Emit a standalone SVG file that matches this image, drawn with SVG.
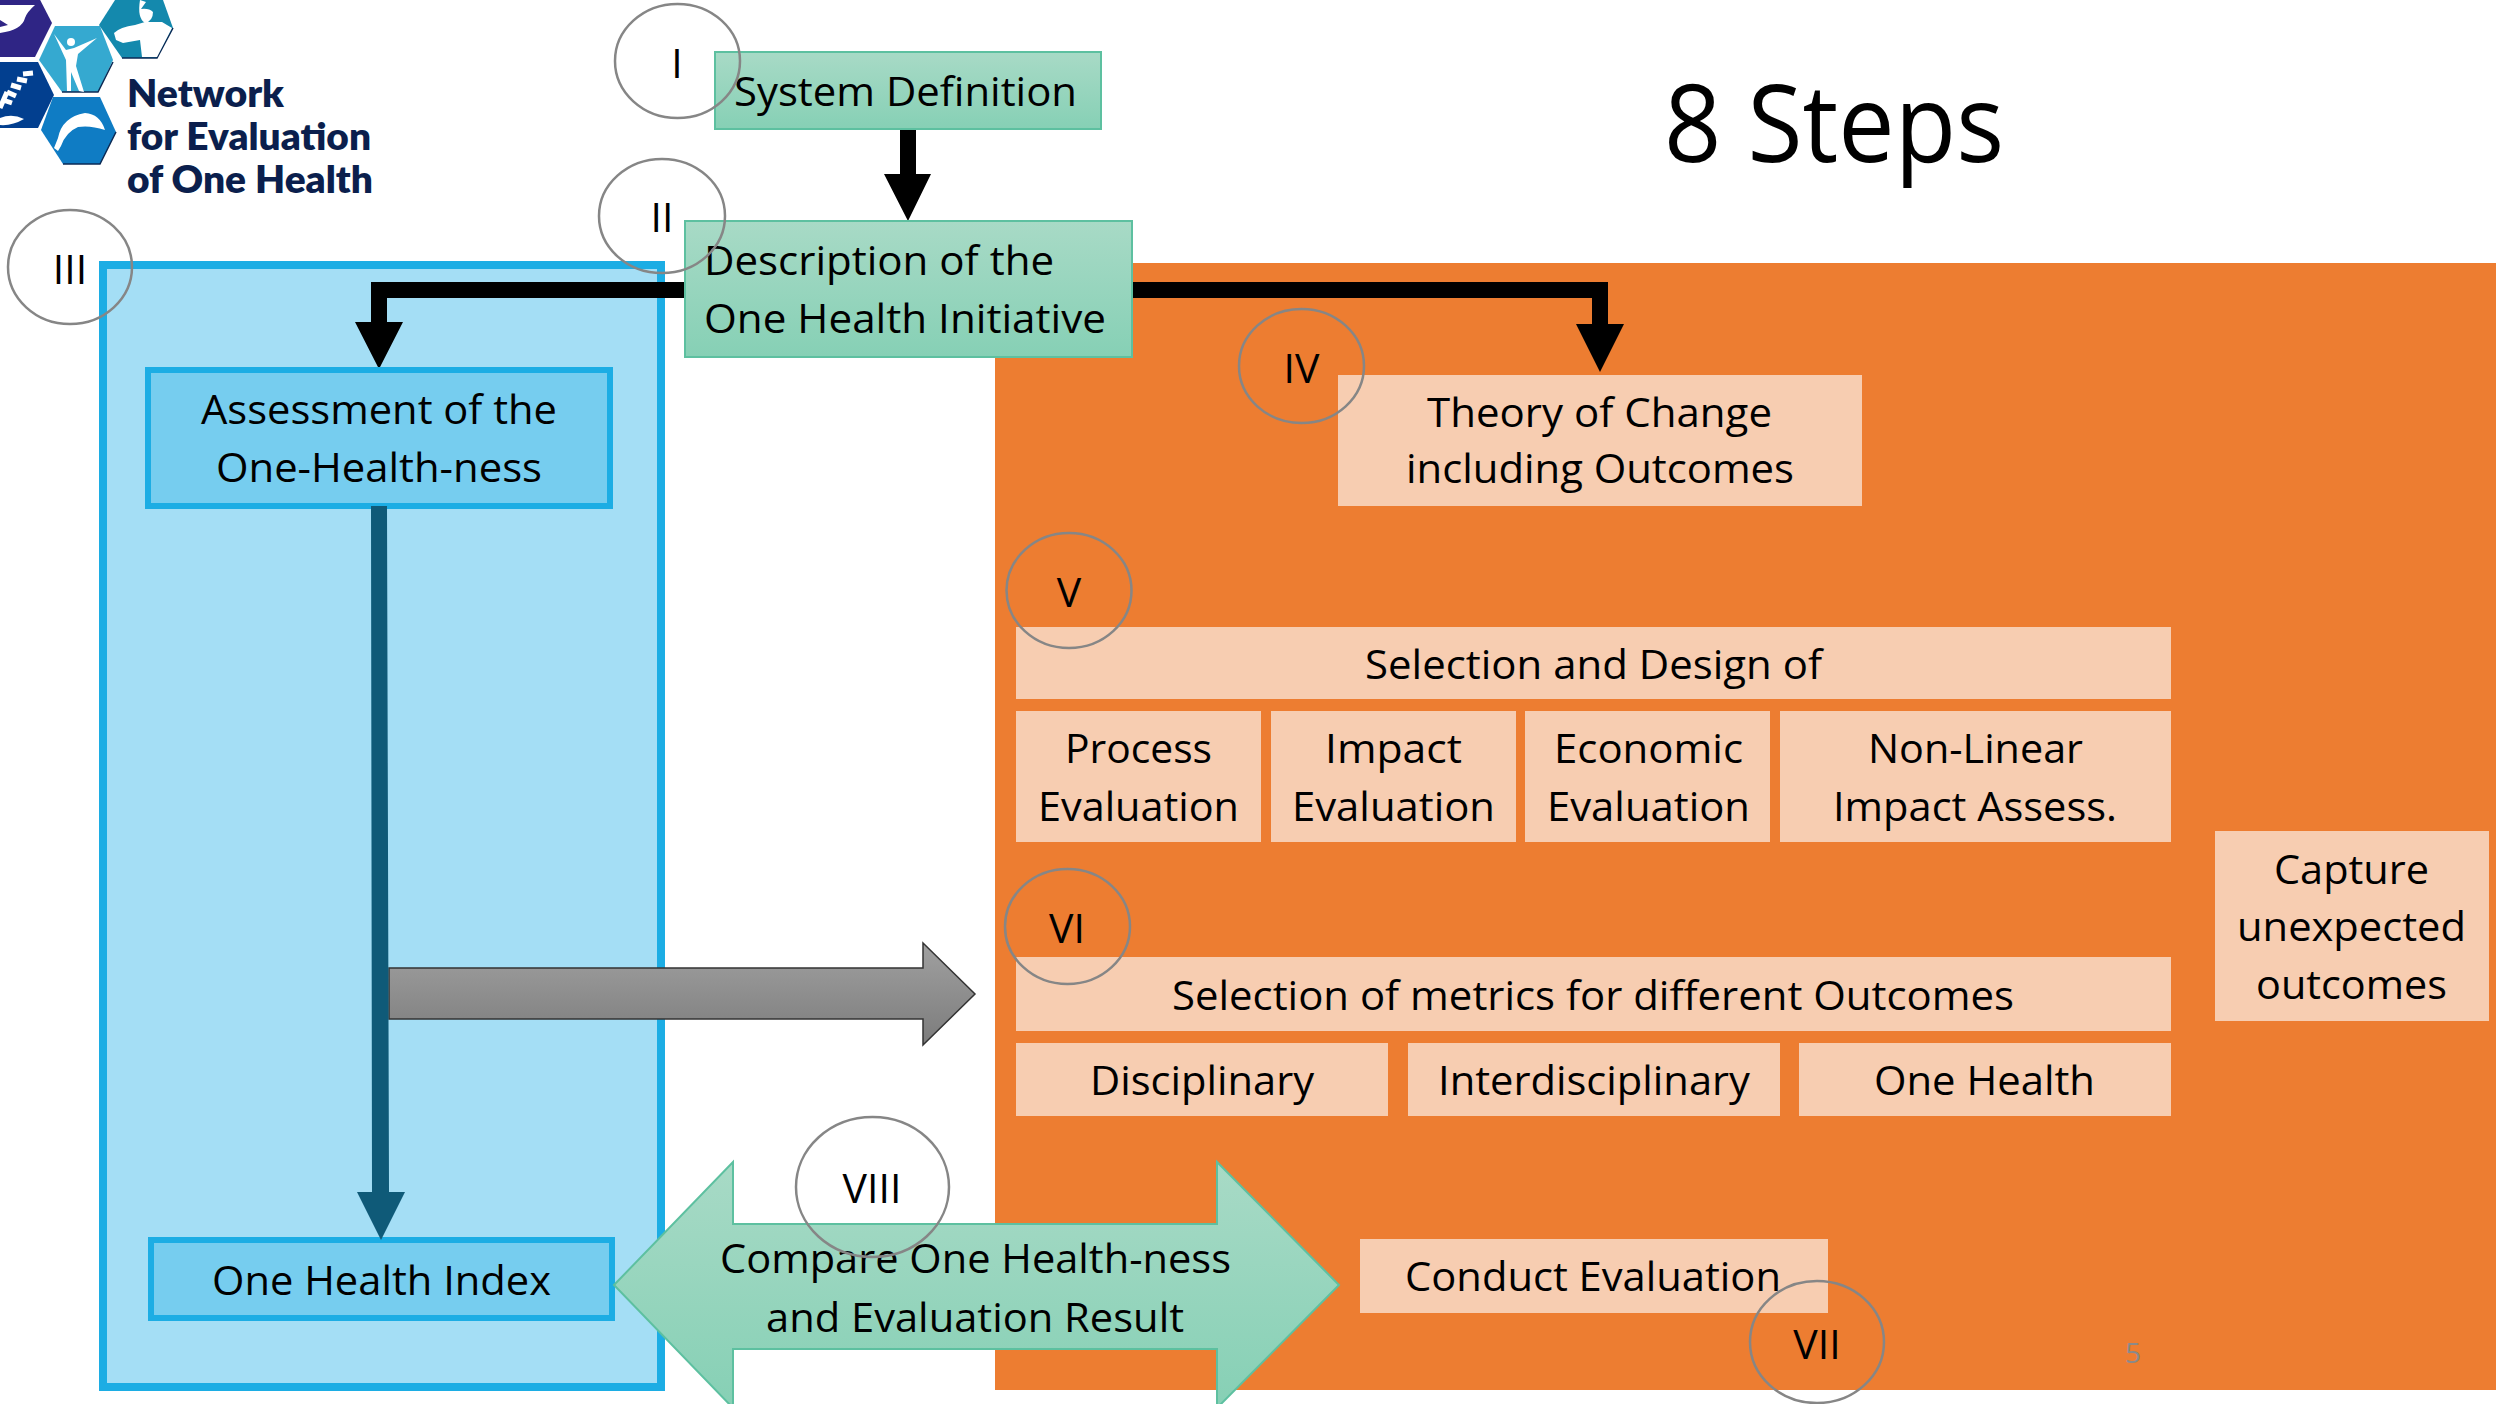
<svg xmlns="http://www.w3.org/2000/svg" width="2496" height="1404" viewBox="0 0 2496 1404">
<style>
text{font-family:"Open Sans","Noto Sans",sans-serif;font-size:41px;fill:#000}
.c{fill:none;stroke:#868686;stroke-width:2.5}
.p{fill:#f7cdb1}
.g{fill:url(#gg);stroke:#5dc0a0;stroke-width:2}
.b{fill:#76cdef;stroke:#1cade4;stroke-width:6}
text.l{font-family:"Lato",sans-serif;font-weight:800;font-size:38px;fill:#0b1f4d}
.w{fill:#fff}
.s{fill:none;stroke:#0b2a55;stroke-width:1.5}
.st{fill:none;stroke:#fff;stroke-width:5}
</style>
<defs>
<linearGradient id="gg" x1="0" y1="0" x2="0" y2="1"><stop offset="0" stop-color="#a8dac6"/><stop offset="1" stop-color="#86d0b5"/></linearGradient>
<linearGradient id="gr" x1="0" y1="0" x2="0" y2="1"><stop offset="0" stop-color="#a0a0a0"/><stop offset="1" stop-color="#7c7c7c"/></linearGradient>
</defs>
<rect width="2496" height="1404" fill="#fff"/>
<rect id="orange-panel" x="995" y="263" width="1501" height="1127" fill="#ed7d31"/>
<rect id="blue-panel" x="103" y="265" width="558" height="1122" fill="#a4def5" stroke="#1cade4" stroke-width="8"/>
<g id="logo">
<polygon points="0,57 35,57 52,23 35,-10 0,-10" fill="#2f2585"/>
<polygon points="39,60 55,26 100,26 113,60 98,92 62,92" fill="#35a9d0"/>
<polygon points="99,25 115,0 163,0 173,28 157,58 122,58" fill="#1489ad"/>
<polygon points="0,62 38,62 54,95 38,128 0,128" fill="#023f8f"/>
<polygon points="41,130 53,97 100,97 116,132 100,164 63,164" fill="#0f7cc4"/>
<path class="s" d="M122,58 H157 L173,28 M62,92 H98 L113,62 M63,164 H100 L116,132"/>
<path class="w" d="M0,5 L35,5 Q27,12 25,18 Q22,30 0,33 L0,27 L8,25 L0,20Z"/>
<circle class="w" cx="71" cy="42" r="4"/>
<path class="w" d="M54,34 L66,50 L74,48 L97,38 L78,54 L76,66 L84,92 L79,91 L71,72 L71,91 L67,91 L66,60Z"/>
<path class="w" d="M114,33 Q120,27 135,25 L145,22 L162,22 L172,28 L157,57 L142,57 L140,40 L123,43 L116,40Z"/>
<path class="w" d="M140,0 L146,2 L141,9 Q149,8 153,12 Q153,21 145,23 Q137,18 140,0Z"/>
<path class="st" d="M0,108 L7,92 M3,100 L12,103 M7,92 L16,96 M11,85 L21,88 M17,79 L27,81 M23,74 L33,73"/>
<path class="w" d="M0,118 Q12,113 24,119 Q12,126 0,125Z"/>
<path class="w" d="M54,148 L58,138 Q62,117 85,113 Q100,114 105,130 Q90,125 78,127 Q66,132 61,146 L58,151Z"/>
<text class="l" x="127" y="107" textLength="157" lengthAdjust="spacingAndGlyphs">Network</text>
<text class="l" x="127" y="150" textLength="244" lengthAdjust="spacingAndGlyphs">for Evaluation</text>
<text class="l" x="127" y="193" textLength="246" lengthAdjust="spacingAndGlyphs">of One Health</text>
</g>
<text id="title" x="1664" y="162" style="font-size:108px" textLength="340" lengthAdjust="spacingAndGlyphs">8 Steps</text>
<g id="connectors">
<polygon points="900,129 916,129 916,174 931,174 908,221 884,174 900,174"/>
<polygon points="690,282 371,282 371,322 355,322 379,369 403,322 387,322 387,298 690,298"/>
<polygon points="1130,282 1608,282 1608,324 1624,324 1600,372 1576,324 1592,324 1592,298 1130,298"/>
<polygon points="389,968 923,968 923,943 975,994 923,1045 923,1019 389,1019" fill="url(#gr)" stroke="#333" stroke-width="1.5"/>
</g>
<g id="system-definition"><rect class="g" x="715" y="52" width="386" height="77"/><text x="734" y="106" textLength="343" lengthAdjust="spacingAndGlyphs">System Definition</text></g>
<g id="description"><rect class="g" x="685" y="221" width="447" height="136"/><text x="704" y="275" textLength="350" lengthAdjust="spacingAndGlyphs">Description of the</text><text x="704" y="333" textLength="402" lengthAdjust="spacingAndGlyphs">One Health Initiative</text></g>
<g id="assessment"><rect class="b" x="148" y="370" width="462" height="136"/><text x="201" y="424" textLength="356" lengthAdjust="spacingAndGlyphs">Assessment of the</text><text x="216" y="482" textLength="326" lengthAdjust="spacingAndGlyphs">One-Health-ness</text></g>
<g id="one-health-index"><rect class="b" x="151" y="1240" width="461" height="78"/><text x="212" y="1295" textLength="339" lengthAdjust="spacingAndGlyphs">One Health Index</text></g>
<polygon id="index-connector" points="371,506 387,506 389,1192 405,1192 381,1240 357,1192 372,1192" fill="#0f5a78"/>
<g id="compare"><polygon class="g" points="614,1285 733,1162 733,1224 1217,1224 1217,1162 1339,1285 1217,1408 1217,1349 733,1349 733,1408"/><text x="720" y="1273" textLength="511" lengthAdjust="spacingAndGlyphs">Compare One Health-ness</text><text x="766" y="1332" textLength="418" lengthAdjust="spacingAndGlyphs">and Evaluation Result</text></g>
<g id="theory"><rect class="p" x="1338" y="375" width="524" height="131"/><text x="1427" y="427" textLength="345" lengthAdjust="spacingAndGlyphs">Theory of Change</text><text x="1406" y="483" textLength="388" lengthAdjust="spacingAndGlyphs">including Outcomes</text></g>
<g id="selection-design"><rect class="p" x="1016" y="627" width="1155" height="72"/><text x="1365" y="679" textLength="457" lengthAdjust="spacingAndGlyphs">Selection and Design of</text></g>
<g id="process"><rect class="p" x="1016" y="711" width="245" height="131"/><text x="1065" y="763" textLength="147" lengthAdjust="spacingAndGlyphs">Process</text><text x="1038" y="821" textLength="201" lengthAdjust="spacingAndGlyphs">Evaluation</text></g>
<g id="impact"><rect class="p" x="1271" y="711" width="245" height="131"/><text x="1325" y="763" textLength="137" lengthAdjust="spacingAndGlyphs">Impact</text><text x="1292" y="821" textLength="203" lengthAdjust="spacingAndGlyphs">Evaluation</text></g>
<g id="economic"><rect class="p" x="1525" y="711" width="245" height="131"/><text x="1554" y="763" textLength="189" lengthAdjust="spacingAndGlyphs">Economic</text><text x="1547" y="821" textLength="203" lengthAdjust="spacingAndGlyphs">Evaluation</text></g>
<g id="non-linear"><rect class="p" x="1780" y="711" width="391" height="131"/><text x="1868" y="763" textLength="215" lengthAdjust="spacingAndGlyphs">Non-Linear</text><text x="1833" y="821" textLength="284" lengthAdjust="spacingAndGlyphs">Impact Assess.</text></g>
<g id="metrics"><rect class="p" x="1016" y="957" width="1155" height="74"/><text x="1172" y="1010" textLength="842" lengthAdjust="spacingAndGlyphs">Selection of metrics for different Outcomes</text></g>
<g id="disciplinary"><rect class="p" x="1016" y="1043" width="372" height="73"/><text x="1090" y="1095" textLength="224" lengthAdjust="spacingAndGlyphs">Disciplinary</text></g>
<g id="interdisciplinary"><rect class="p" x="1408" y="1043" width="372" height="73"/><text x="1438" y="1095" textLength="312" lengthAdjust="spacingAndGlyphs">Interdisciplinary</text></g>
<g id="one-health"><rect class="p" x="1799" y="1043" width="372" height="73"/><text x="1874" y="1095" textLength="221" lengthAdjust="spacingAndGlyphs">One Health</text></g>
<g id="capture"><rect class="p" x="2215" y="831" width="274" height="190"/><text x="2274" y="884" textLength="155" lengthAdjust="spacingAndGlyphs">Capture</text><text x="2237" y="941" textLength="229" lengthAdjust="spacingAndGlyphs">unexpected</text><text x="2256" y="999" textLength="191" lengthAdjust="spacingAndGlyphs">outcomes</text></g>
<g id="conduct"><rect class="p" x="1360" y="1239" width="468" height="74"/><text x="1405" y="1291" textLength="376" lengthAdjust="spacingAndGlyphs">Conduct Evaluation</text></g>
<g id="marker-I"><ellipse class="c" cx="677.5" cy="61" rx="62.5" ry="57"/><text x="677" y="78" text-anchor="middle">I</text></g>
<g id="marker-II"><ellipse class="c" cx="662" cy="216" rx="63" ry="57"/><text x="662" y="232" text-anchor="middle">II</text></g>
<g id="marker-III"><ellipse class="c" cx="70" cy="267" rx="62" ry="57"/><text x="70" y="284" text-anchor="middle">III</text></g>
<g id="marker-IV"><ellipse class="c" cx="1301.5" cy="366" rx="62.5" ry="57"/><text x="1301.5" y="383" text-anchor="middle">IV</text></g>
<g id="marker-V"><ellipse class="c" cx="1069" cy="590.5" rx="62.5" ry="57.5"/><text x="1069" y="607" text-anchor="middle">V</text></g>
<g id="marker-VI"><ellipse class="c" cx="1067.5" cy="926.5" rx="62.5" ry="57.5"/><text x="1067" y="943" text-anchor="middle">VI</text></g>
<g id="marker-VII"><ellipse class="c" cx="1817" cy="1342" rx="67" ry="61"/><text x="1817" y="1359" text-anchor="middle">VII</text></g>
<g id="marker-VIII"><ellipse class="c" cx="872.5" cy="1187" rx="76.5" ry="70"/><text x="872" y="1203" text-anchor="middle">VIII</text></g>
<text id="page-number" x="2133" y="1363" text-anchor="middle" style="font-size:28px;fill:#8a8a8a">5</text>
</svg>
